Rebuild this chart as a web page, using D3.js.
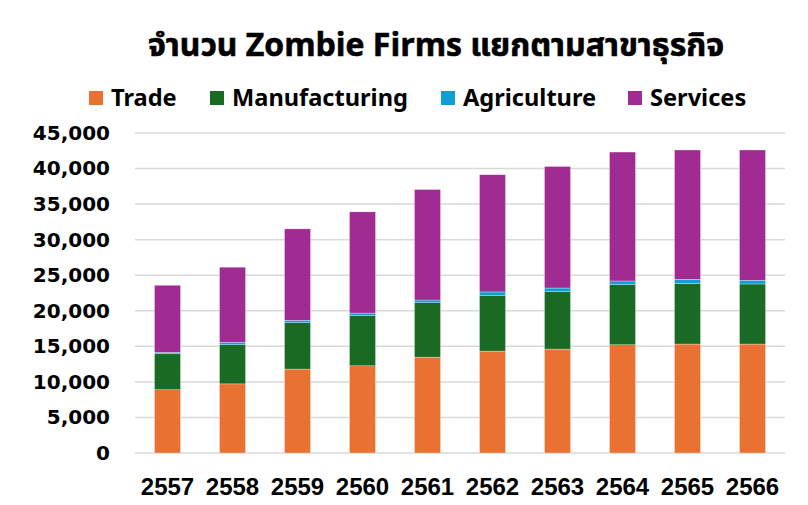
<!DOCTYPE html>
<html>
<head>
<meta charset="utf-8">
<script src="https://cdn.jsdelivr.net/npm/d3@7"></script>
<style>
  body { margin: 0; background: #fff; }
  #chart { width: 808px; height: 505px; }
</style>
</head>
<body>
<div id="chart"></div>
<script>
// data
const years = ["2557", "2558", "2559", "2560", "2561", "2562", "2563", "2564", "2565", "2566"];
const trade = [8900, 9720, 11800, 12260, 13480, 14330, 14610, 15220, 15320, 15320];
const manufacturing = [5050, 5500, 6520, 7040, 7650, 7850, 8070, 8450, 8490, 8450];
const agriculture = [200, 340, 340, 380, 380, 470, 520, 520, 620, 520];
const services = [9440, 10570, 12860, 14230, 15540, 16480, 17090, 18130, 18180, 18320];
const yTicks = [0, 5000, 10000, 15000, 20000, 25000, 30000, 35000, 40000, 45000];

const seriesNames = ["Trade", "Manufacturing", "Agriculture", "Services"];
const colors = ["#E97132", "#196B24", "#0F9ED5", "#A02B93"];

let rows = years.map((yr, i) => ({
    year: yr,
    Trade: trade[i],
    Manufacturing: manufacturing[i],
    Agriculture: agriculture[i],
    Services: services[i]
}));

let divWidth = 808, divHeight = 505;
let margin = { top: 133, bottom: 52, left: 135, right: 23 };
let width = divWidth - margin.left - margin.right;
let height = divHeight - margin.top - margin.bottom;

let svg = d3.select("#chart").append("svg")
    .attr("width", divWidth)
    .attr("height", divHeight);

svg.append("rect")
    .attr("width", divWidth).attr("height", divHeight)
    .attr("fill", "#fff");

// title
svg.append("text")
    .attr("x", 436)
    .attr("y", 56)
    .attr("text-anchor", "middle")
    .attr("font-family", "'Noto Sans Thai', 'Noto Sans', sans-serif")
    .attr("font-weight", "bold")
    .attr("font-size", 32)
    .attr("fill", "#000")
    .attr("stroke", "#000")
    .attr("stroke-width", 0.6)
    .text("จำนวน Zombie Firms แยกตามสาขาธุรกิจ");

// legend
let legendX = [89, 210, 441, 628];
let legend = svg.append("g").selectAll("g").data(seriesNames).enter().append("g")
    .attr("transform", (d, i) => `translate(${legendX[i]},91)`);
legend.append("rect")
    .attr("width", 14).attr("height", 14)
    .attr("fill", (d, i) => colors[i]);
legend.append("text")
    .attr("x", 22)
    .attr("y", 15)
    .attr("font-family", "'Noto Sans', sans-serif")
    .attr("font-weight", "bold")
    .attr("font-size", 23.6)
    .attr("fill", "#000")
    .text(d => d);

let g = svg.append("g").attr("transform", `translate(${margin.left},${margin.top})`);

let x = d3.scaleBand().domain(years).range([0, width]).paddingInner(0.6).paddingOuter(0.3);
let y = d3.scaleLinear().domain([0, 45000]).range([height, 0]);

// gridlines
g.append("g")
    .selectAll("line").data(yTicks).enter().append("line")
    .attr("x1", 0).attr("x2", width)
    .attr("y1", d => y(d)).attr("y2", d => y(d))
    .attr("stroke", "#d9d9d9")
    .attr("stroke-width", 1.5);

// y axis labels
let yAxis = d3.axisLeft(y).tickValues(yTicks).tickSize(0).tickPadding(25)
    .tickFormat(d3.format(","));
g.append("g")
    .call(yAxis)
    .call(a => a.select(".domain").remove())
    .selectAll("text")
    .attr("font-family", "'DejaVu Sans', sans-serif")
    .attr("font-weight", "bold")
    .attr("font-size", 20)
    .attr("fill", "#000");

// stacked bars
let stack = d3.stack().keys(seriesNames);
let stacked = stack(rows);

g.append("g").selectAll("g").data(stacked).enter().append("g")
    .attr("fill", (d, i) => colors[i])
    .selectAll("rect").data(d => d).enter().append("rect")
    .attr("x", d => x(d.data.year))
    .attr("y", d => y(d[1]))
    .attr("width", x.bandwidth())
    .attr("height", d => y(d[0]) - y(d[1]))
    .attr("stroke", "#fff")
    .attr("stroke-width", 0.5)
    .attr("stroke-opacity", 0.6);

// x axis labels
let xAxis = d3.axisBottom(x).tickSize(0).tickPadding(25);
g.append("g")
    .attr("transform", `translate(0,${height})`)
    .call(xAxis)
    .call(a => a.select(".domain").remove())
    .selectAll("text")
    .attr("font-family", "'Liberation Sans', Arial, sans-serif")
    .attr("font-weight", "bold")
    .attr("font-size", 24)
    .attr("fill", "#000");
</script>
</body>
</html>
